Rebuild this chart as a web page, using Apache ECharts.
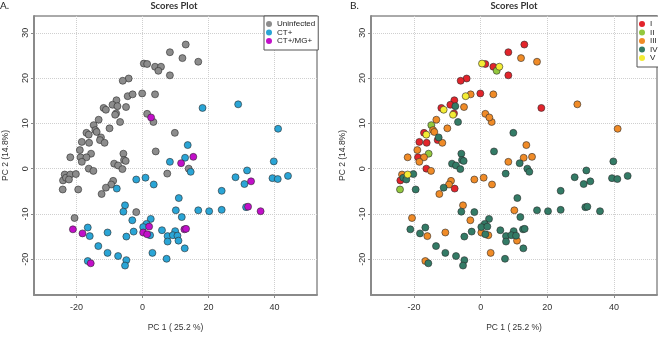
<!DOCTYPE html>
<html>
<head>
<meta charset="utf-8">
<script src="https://cdn.jsdelivr.net/npm/echarts@6/dist/echarts.min.js"></script>
<style>
  html, body { margin: 0; padding: 0; background: #fff; }
  #chart { width: 658px; height: 337px; }
</style>
</head>
<body>
<div id="chart"></div>
<script>
// PCA scores: [PC1, PC2, stage]
const uninfected = [
  [13.1, 27.4, "I"], [8.3, 25.7, "I"], [12.1, 24.4, "III"], [16.9, 23.6, "III"],
  [0.4, 23.2, "V"], [1.4, 23.1, "I"], [3.8, 22.5, "I"], [5.6, 22.5, "V"],
  [4.8, 21.6, "II"], [8.3, 20.6, "I"], [-4.2, 19.9, "I"], [-6.0, 19.4, "I"],
  [-4.5, 16.0, "V"], [-3.0, 16.4, "III"], [-0.1, 16.6, "I"], [3.8, 16.4, "III"],
  [-7.9, 15.1, "I"], [-9.1, 14.1, "I"], [-7.6, 13.8, "IV"], [-5.0, 13.6, "III"],
  [-11.8, 13.4, "I"], [-11.1, 13.0, "V"], [-8.0, 12.2, "I"], [-8.3, 11.9, "V"],
  [1.4, 12.1, "III"], [3.3, 10.3, "III"], [-6.8, 10.3, "IV"], [-13.3, 10.8, "III"],
  [-14.8, 9.6, "II"], [-14.3, 8.5, "III"], [-13.9, 8.1, "III"], [-17.0, 7.9, "I"],
  [-16.3, 7.5, "V"], [-10.0, 8.9, "III"], [-12.6, 6.9, "IV"], [-12.9, 6.3, "I"],
  [-11.5, 5.7, "III"], [-18.4, 5.9, "I"], [-16.2, 5.7, "I"], [9.8, 7.9, "IV"],
  [-19.0, 4.1, "III"], [-15.6, 3.3, "II"], [-5.8, 3.3, "IV"], [4.0, 3.8, "IV"],
  [-21.9, 2.5, "III"], [-18.8, 2.5, "I"], [-17.0, 2.5, "III"], [-18.4, 1.5, "III"],
  [-5.6, 1.9, "IV"], [-5.1, 1.7, "IV"], [-8.6, 1.1, "IV"], [-7.4, 0.7, "IV"],
  [-6.1, -0.1, "IV"], [-16.3, 0.0, "I"], [-14.9, -0.5, "III"], [14.0, 0.0, "IV"],
  [7.5, -1.1, "IV"], [-24.1, -2.6, "I"], [-23.6, -1.3, "III"], [-23.2, -2.0, "IV"],
  [-21.9, -1.3, "V"], [-20.2, -1.2, "IV"], [-22.3, -2.4, "IV"], [-24.2, -4.6, "II"],
  [-19.5, -4.6, "IV"], [-8.9, -2.7, "III"], [-9.5, -3.5, "III"], [-11.1, -4.2, "IV"],
  [-12.4, -5.6, "III"], [-1.9, -9.6, "IV"], [-20.6, -10.9, "III"]
];
const ctPos = [
  [18.2, 13.4, "I"], [29.0, 14.2, "III"], [41.1, 8.8, "III"], [13.7, 5.2, "III"],
  [12.9, 2.4, "III"], [8.3, 1.5, "III"], [39.8, 1.6, "IV"], [14.6, -0.7, "IV"],
  [31.7, -0.4, "IV"], [-7.8, -4.4, "I"], [-1.9, -2.4, "III"], [0.9, -2.0, "III"],
  [3.4, -3.5, "III"], [28.2, -1.9, "IV"], [30.9, -3.4, "IV"], [39.4, -2.1, "IV"],
  [41.0, -2.3, "IV"], [44.1, -1.6, "IV"], [24.0, -4.9, "IV"], [11.0, -6.5, "IV"],
  [-5.3, -8.1, "III"], [-5.8, -9.5, "IV"], [10.1, -9.2, "III"], [16.9, -9.2, "IV"],
  [20.2, -9.4, "IV"], [24.0, -9.1, "IV"], [31.4, -8.5, "IV"], [11.9, -10.7, "IV"],
  [-3.1, -11.4, "III"], [2.5, -11.1, "IV"], [1.2, -12.2, "IV"], [0.2, -12.9, "IV"],
  [-16.6, -13.0, "IV"], [-10.6, -14.1, "III"], [-16.0, -14.9, "III"], [-2.7, -13.9, "IV"],
  [2.3, -14.7, "III"], [5.9, -13.6, "IV"], [9.9, -13.8, "IV"], [7.6, -14.9, "IV"],
  [9.2, -14.7, "IV"], [10.6, -14.8, "IV"], [7.6, -16.1, "IV"], [10.9, -15.9, "III"],
  [-4.9, -15.0, "IV"], [-13.4, -17.1, "IV"], [12.8, -17.6, "IV"], [-10.6, -18.6, "IV"],
  [3.0, -18.6, "III"], [-7.4, -19.3, "IV"], [7.3, -19.9, "IV"], [-16.6, -20.4, "III"],
  [-4.9, -20.2, "IV"], [-5.3, -21.4, "IV"]
];
const ctMgPos = [
  [2.6, 11.3, "III"], [15.4, 2.6, "III"], [11.7, 1.2, "IV"], [32.9, -2.8, "IV"],
  [32.0, -8.4, "IV"], [35.8, -9.4, "IV"], [2.0, -12.8, "IV"], [-21.1, -13.4, "IV"],
  [-18.2, -14.3, "IV"], [0.2, -14.1, "III"], [1.4, -14.5, "IV"], [12.7, -13.4, "IV"],
  [13.2, -13.3, "IV"], [-15.7, -20.9, "IV"]
];

const groups = ["Uninfected", "CT+", "CT+/MG+"];
const stages = ["I", "II", "III", "IV", "V"];
const xTicks = [-20, 0, 20, 40];
const yTicks = [-20, -10, 0, 10, 20, 30];

const groupColors = ["#8c8c8c", "#2aa5d6", "#c20fc9"];
const stageColors = ["#e2242b", "#93c83e", "#f08b27", "#337b66", "#f3ec34"];

const tickFont = "Liberation Sans";
const allPoints = [uninfected, ctPos, ctMgPos];

function xAxisFor(gridIndex) {
  return {
    type: "value",
    gridIndex: gridIndex,
    min: -32.9,
    max: 52.9,
    splitNumber: 4,
    name: "PC 1 ( 25.2 %)",
    nameLocation: "middle",
    nameGap: 28,
    nameTextStyle: { fontSize: 8.5, color: "#333", fontFamily: tickFont },
    axisLine: { show: true, onZero: false, lineStyle: { color: "#8a8a8a", width: 2 } },
    axisTick: { show: true, length: 3, customValues: xTicks, lineStyle: { color: "#8a8a8a" } },
    axisLabel: { customValues: xTicks, fontSize: 9, color: "#333", margin: 8, fontFamily: tickFont },
    splitLine: { show: true, lineStyle: { type: "dotted", color: "#cfcfcf", width: 1 } },
  };
}

function yAxisFor(gridIndex) {
  return {
    type: "value",
    gridIndex: gridIndex,
    min: -27.9,
    max: 33.7,
    splitNumber: 6,
    name: "PC 2 (14.8%)",
    nameLocation: "middle",
    nameGap: 24,
    nameTextStyle: { fontSize: 8.5, color: "#333", fontFamily: tickFont },
    axisLine: { show: true, onZero: false, lineStyle: { color: "#8a8a8a", width: 2 } },
    axisTick: { show: true, length: 3, customValues: yTicks, lineStyle: { color: "#8a8a8a" } },
    axisLabel: { customValues: yTicks, rotate: 90, fontSize: 9, color: "#333", margin: 4, fontFamily: tickFont },
    splitLine: { show: true, lineStyle: { type: "dotted", color: "#cfcfcf", width: 1 } },
  };
}

function pointStyle(color) {
  return { color: color, borderColor: "#2b2b2b", borderWidth: 0.6, opacity: 1 };
}

const series = [];
groups.forEach((g, i) => {
  series.push({
    name: g,
    type: "scatter",
    xAxisIndex: 0,
    yAxisIndex: 0,
    symbolSize: 7,
    itemStyle: pointStyle(groupColors[i]),
    data: allPoints[i].map((p) => [p[0], p[1]]),
  });
});
stages.forEach((s, i) => {
  const pts = [];
  allPoints.forEach((arr) => {
    arr.forEach((p) => {
      if (p[2] === s) pts.push([p[0], p[1]]);
    });
  });
  series.push({
    name: s,
    type: "scatter",
    xAxisIndex: 1,
    yAxisIndex: 1,
    symbolSize: 7,
    itemStyle: pointStyle(stageColors[i]),
    data: pts,
  });
});

const legendBase = {
  orient: "vertical",
  icon: "circle",
  itemWidth: 6,
  itemHeight: 6,
  itemGap: 0.5,
  borderColor: "#555",
  borderWidth: 1,
  borderRadius: 0,
  backgroundColor: "#fff",
  itemStyle: { borderWidth: 0 },
  textStyle: { fontSize: 8, lineHeight: 7, color: "#222", fontFamily: tickFont },
};

const chart = echarts.init(document.getElementById("chart"));
chart.setOption({
  animation: false,
  color: groupColors.concat(stageColors),
  grid: [
    { left: 31, top: 16, width: 286, height: 287, show: true, borderColor: "#555", borderWidth: 1 },
    { left: 371, top: 16, width: 286, height: 287, show: true, borderColor: "#555", borderWidth: 1 },
  ],
  xAxis: [xAxisFor(0), xAxisFor(1)],
  yAxis: [yAxisFor(0), yAxisFor(1)],
  legend: [
    Object.assign({}, legendBase, { data: groups, left: 264, top: 16, padding: [4, 3, 5, 2] }),
    Object.assign({}, legendBase, { data: stages, left: 637, top: 16, padding: [4, 8, 5, 2] }),
  ],
  graphic: [
    { type: "text", x: 0, y: 6, style: { text: "A.", font: "10px Lato", fill: "#222", textVerticalAlign: "middle" } },
    { type: "text", x: 350, y: 6, style: { text: "B.", font: "10px Lato", fill: "#222", textVerticalAlign: "middle" } },
    { type: "text", x: 174, y: 6, style: { text: "Scores Plot", font: "bold 9.5px Lato", fill: "#333", textAlign: "center", textVerticalAlign: "middle" } },
    { type: "text", x: 514, y: 6, style: { text: "Scores Plot", font: "bold 9.5px Lato", fill: "#333", textAlign: "center", textVerticalAlign: "middle" } },
  ],
  series: series,
});
</script>
</body>
</html>
